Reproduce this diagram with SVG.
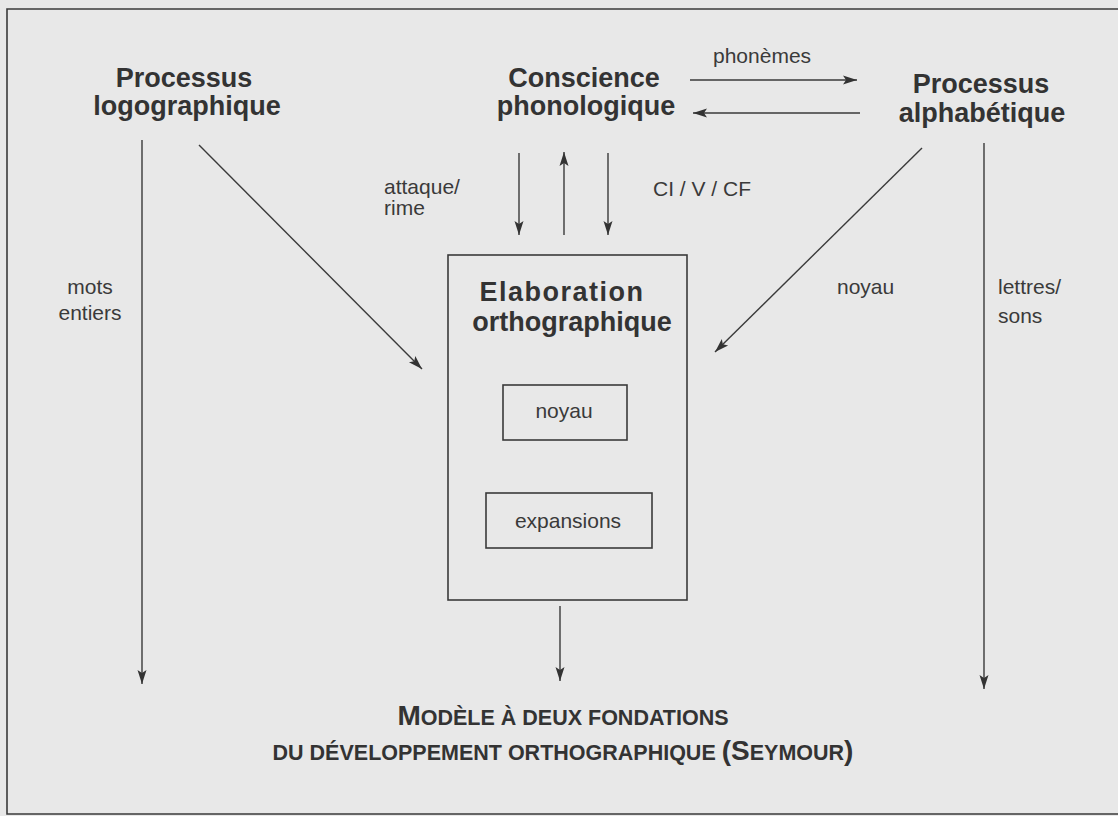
<svg xmlns="http://www.w3.org/2000/svg" width="1118" height="816" viewBox="0 0 1118 816">
<style>
.bg{fill:#e8e8e8}
.frame{fill:none;stroke:#3a3a3a;stroke-width:1.6}
.box{fill:none;stroke:#3a3a3a;stroke-width:1.6}
.conn{fill:none;stroke:#3a3a3a;stroke-width:1.4}
.title{font-family:"Liberation Sans",Arial,sans-serif;font-weight:bold;font-size:27px;fill:#333;text-anchor:middle}
.lbl{font-family:"Liberation Sans",Arial,sans-serif;font-size:21px;fill:#3a3a3a}
.cap{font-family:"Liberation Sans",Arial,sans-serif;font-weight:bold;fill:#333;text-anchor:middle}
</style>
<defs>
<marker id="ah" viewBox="-15 -6 16 12" refX="0" refY="0" markerWidth="16" markerHeight="12" markerUnits="userSpaceOnUse" orient="auto">
<path d="M0,0 L-14,-4.5 L-11,0 L-14,4.5 Z" fill="#333"/>
</marker>
</defs>
<rect class="bg" x="0" y="0" width="1118" height="816"/>
<path class="frame" d="M1125,9 H7 V814 H1125"/>

<g id="logographique">
<text class="title" x="184" y="87">Processus</text>
<text class="title" x="187" y="115">logographique</text>
</g>
<g id="conscience">
<text class="title" x="584" y="87">Conscience</text>
<text class="title" x="586" y="115">phonologique</text>
</g>
<g id="alphabetique">
<text class="title" x="981" y="93">Processus</text>
<text class="title" x="982" y="122">alphabétique</text>
</g>
<g id="elaboration">
<rect class="box" x="448" y="255" width="239" height="345"/>
<text class="title" x="562" y="301" letter-spacing="1.5">Elaboration</text>
<text class="title" x="572" y="331">orthographique</text>
</g>
<g id="noyau">
<rect class="box" x="503" y="385" width="124" height="55"/>
<text class="lbl" x="564" y="418" text-anchor="middle">noyau</text>
</g>
<g id="expansions">
<rect class="box" x="486" y="493" width="166" height="55"/>
<text class="lbl" x="568" y="528" text-anchor="middle">expansions</text>
</g>

<g id="connectors">
<path class="conn" d="M142,140 V684" marker-end="url(#ah)"/>
<path class="conn" d="M199,145 L422,369" marker-end="url(#ah)"/>
<path class="conn" d="M519,153 V235" marker-end="url(#ah)"/>
<path class="conn" d="M564,235 V152" marker-end="url(#ah)"/>
<path class="conn" d="M608,153 V235" marker-end="url(#ah)"/>
<path class="conn" d="M690,80 H857" marker-end="url(#ah)"/>
<path class="conn" d="M860,113 H693" marker-end="url(#ah)"/>
<path class="conn" d="M922,148 L715,352" marker-end="url(#ah)"/>
<path class="conn" d="M984,143 V689" marker-end="url(#ah)"/>
<path class="conn" d="M560,606 V681" marker-end="url(#ah)"/>
</g>

<g id="labels">
<text class="lbl" x="713" y="63" font-size="20">phonèmes</text>
<text class="lbl" x="384" y="194">attaque/</text>
<text class="lbl" x="384" y="215">rime</text>
<text class="lbl" x="653" y="196" font-size="20">CI / V / CF</text>
<text class="lbl" x="90" y="294" text-anchor="middle">mots</text>
<text class="lbl" x="90" y="320" text-anchor="middle">entiers</text>
<text class="lbl" x="837" y="294">noyau</text>
<text class="lbl" x="998" y="294">lettres/</text>
<text class="lbl" x="998" y="323">sons</text>
</g>

<g id="caption">
<text class="cap" x="563" y="725"><tspan font-size="28">M</tspan><tspan font-size="21.5">ODÈLE À DEUX FONDATIONS</tspan></text>
<text class="cap" x="563" y="760"><tspan font-size="21.5">DU DÉVELOPPEMENT ORTHOGRAPHIQUE </tspan><tspan font-size="28">(S</tspan><tspan font-size="21.5">EYMOUR</tspan><tspan font-size="28">)</tspan></text>
</g>
</svg>
